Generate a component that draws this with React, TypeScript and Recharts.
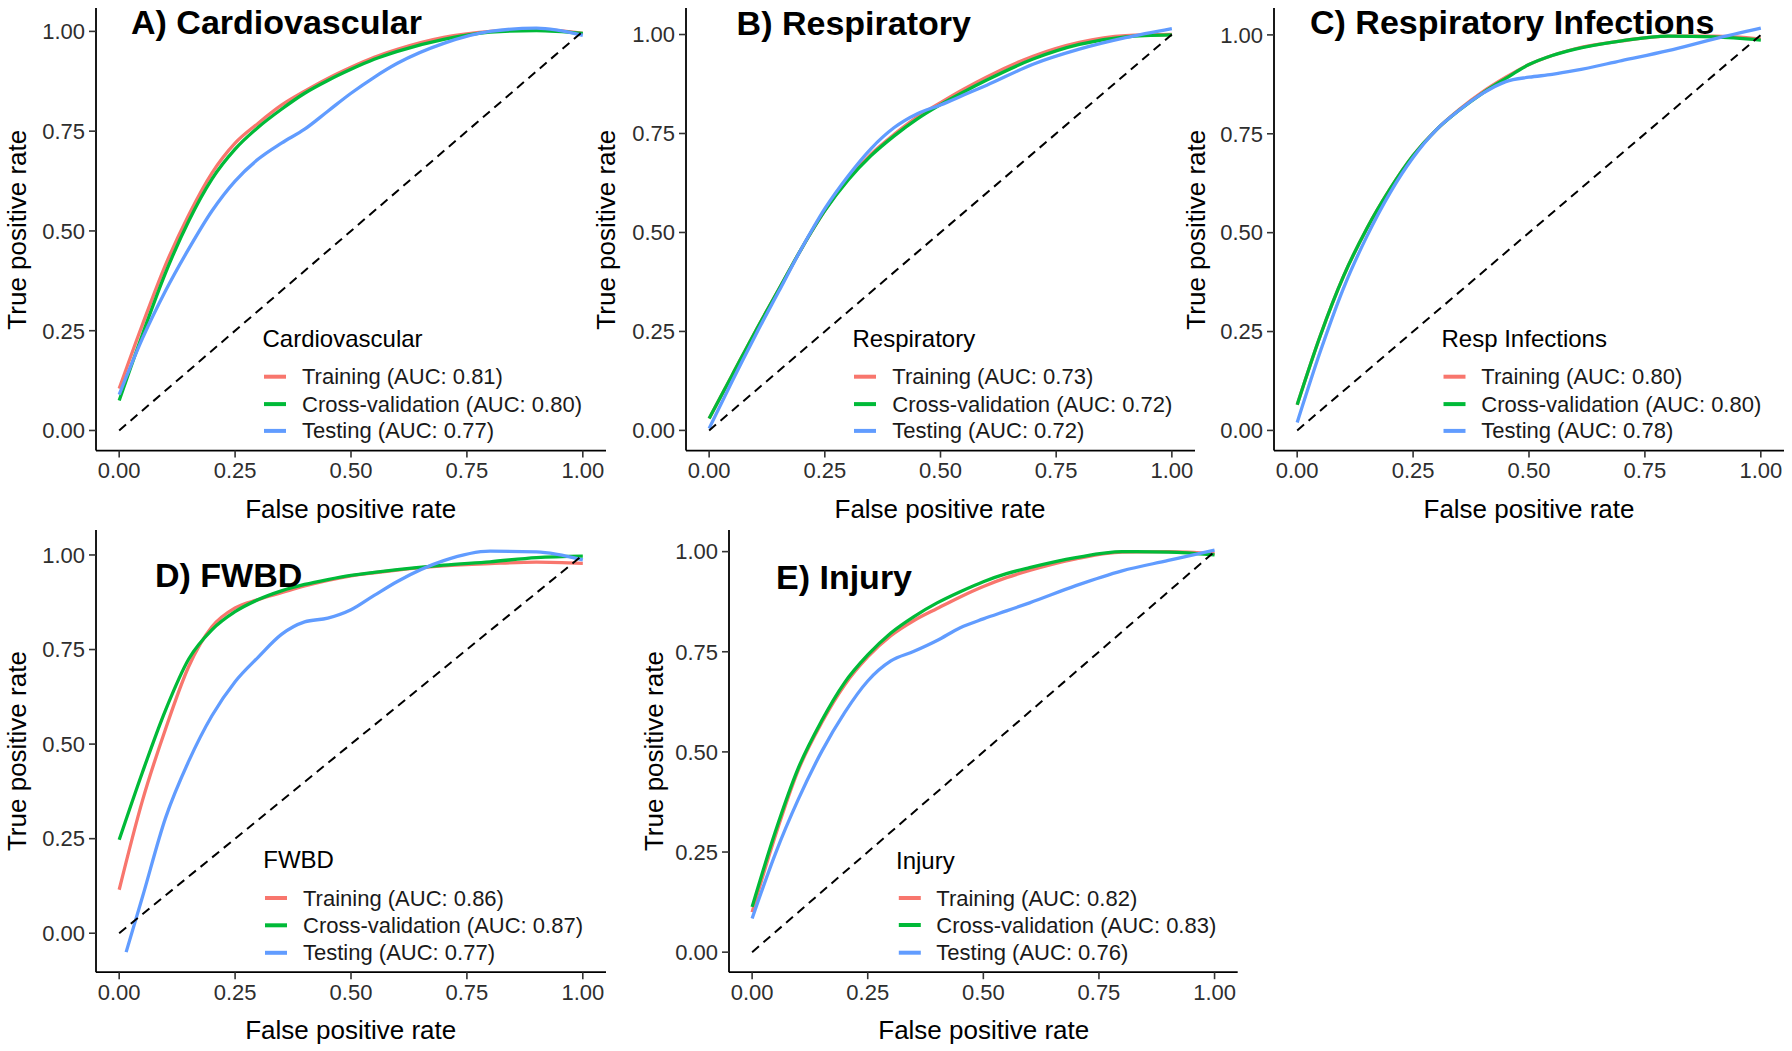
import React from 'react';
import { LineChart, Line, XAxis, YAxis } from 'recharts';

// ROC curves (x = false positive rate, y = true positive rate)
const FPR = [0, 0.05, 0.1, 0.15, 0.2, 0.25, 0.3, 0.35, 0.4, 0.45, 0.5, 0.55, 0.6, 0.7, 0.8, 0.9, 1];
const FPR_FWBD_TEST = [0.015, 0.05, 0.1, 0.15, 0.2, 0.25, 0.3, 0.35, 0.4, 0.45, 0.5, 0.55, 0.6, 0.7, 0.8, 0.9, 1];
const TICKS = [0, 0.25, 0.5, 0.75, 1];
const DIAGONAL = [0, 1];

const cardioTrain = [0.105, 0.265, 0.415, 0.54, 0.645, 0.72, 0.77, 0.815, 0.85, 0.882, 0.91, 0.935, 0.955, 0.985, 1.0, 1.005, 0.995];
const cardioCv = [0.075, 0.24, 0.395, 0.525, 0.63, 0.705, 0.76, 0.805, 0.845, 0.877, 0.905, 0.93, 0.95, 0.98, 0.998, 1.002, 0.995];
const cardioTest = [0.09, 0.23, 0.35, 0.455, 0.55, 0.625, 0.68, 0.72, 0.755, 0.8, 0.845, 0.885, 0.92, 0.97, 1.0, 1.008, 0.99];

const respTrain = [0.03, 0.14, 0.25, 0.355, 0.46, 0.555, 0.635, 0.698, 0.748, 0.792, 0.828, 0.862, 0.893, 0.945, 0.98, 0.997, 1.0];
const respCv = [0.03, 0.14, 0.25, 0.355, 0.46, 0.555, 0.632, 0.694, 0.744, 0.787, 0.823, 0.855, 0.885, 0.938, 0.975, 0.994, 0.999];
const respTest = [0.005, 0.125, 0.24, 0.35, 0.46, 0.56, 0.642, 0.712, 0.765, 0.8, 0.822, 0.847, 0.872, 0.925, 0.963, 0.992, 1.015];

const infTrain = [0.065, 0.24, 0.39, 0.51, 0.61, 0.695, 0.76, 0.812, 0.856, 0.893, 0.925, 0.948, 0.965, 0.985, 0.997, 0.997, 0.99];
const infCv = [0.065, 0.24, 0.39, 0.51, 0.61, 0.695, 0.76, 0.81, 0.853, 0.89, 0.925, 0.948, 0.964, 0.985, 0.997, 0.995, 0.987];
const infTest = [0.02, 0.2, 0.36, 0.49, 0.6, 0.69, 0.76, 0.81, 0.852, 0.882, 0.893, 0.9, 0.91, 0.935, 0.96, 0.99, 1.017];

const fwbdTrain = [0.115, 0.35, 0.54, 0.705, 0.81, 0.86, 0.882, 0.9, 0.918, 0.933, 0.945, 0.953, 0.96, 0.971, 0.977, 0.981, 0.978];
const fwbdCv = [0.247, 0.425, 0.59, 0.725, 0.802, 0.85, 0.882, 0.905, 0.922, 0.935, 0.946, 0.954, 0.961, 0.973, 0.982, 0.993, 0.997];
const fwbdTest = [-0.05, 0.095, 0.305, 0.455, 0.575, 0.665, 0.73, 0.79, 0.823, 0.833, 0.855, 0.893, 0.93, 0.985, 1.01, 1.008, 0.987];

const injTrain = [0.1, 0.29, 0.455, 0.572, 0.667, 0.737, 0.79, 0.828, 0.858, 0.887, 0.913, 0.935, 0.953, 0.982, 0.999, 1.0, 0.995];
const injCv = [0.113, 0.3, 0.46, 0.577, 0.673, 0.742, 0.797, 0.838, 0.872, 0.9, 0.925, 0.945, 0.96, 0.985, 1.0, 0.999, 0.992];
const injTest = [0.084, 0.245, 0.382, 0.5, 0.598, 0.677, 0.727, 0.751, 0.778, 0.81, 0.832, 0.852, 0.872, 0.915, 0.952, 0.978, 1.004];

const SERIES_NAMES = ['Training', 'Cross-validation', 'Testing'];
const COLORS = ['#F8766D', '#00BA38', '#619CFF'];

const FONT = '"Liberation Sans", Arial, sans-serif';
const YW = 90; // y axis width
const XH = 40; // x axis height

const toPoints = (xs: number[], ys: number[]) => xs.map((x, i) => ({ x, y: ys[i] }));

const panels = [
  {
    title: 'A) Cardiovascular', legendTitle: 'Cardiovascular', auc: ['0.81', '0.80', '0.77'],
    series: [[FPR, cardioTrain], [FPR, cardioCv], [FPR, cardioTest]],
    plot: { left: 95.7, top: 8.4, w: 510, h: 442.6 }, yDomain: [-0.0504, 1.0586],
    titleAt: [131, 22], yTitleX: 17, xTitleY: 509,
    legend: { titleX: 262.5, titleY: 338.8, keyX: 264, textX: 302, itemY: [376.7, 404.1, 430.9] },
  },
  {
    title: 'B) Respiratory', legendTitle: 'Respiratory', auc: ['0.73', '0.72', '0.72'],
    series: [[FPR, respTrain], [FPR, respCv], [FPR, respTest]],
    plot: { left: 685.5, top: 8.4, w: 509, h: 442.6 }, yDomain: [-0.051, 1.067],
    titleAt: [736.6, 23], yTitleX: 606, xTitleY: 509,
    legend: { titleX: 852.5, titleY: 338.8, keyX: 854, textX: 892.3, itemY: [376.7, 404.1, 430.9] },
  },
  {
    title: 'C) Respiratory Infections', legendTitle: 'Resp Infections', auc: ['0.80', '0.80', '0.78'],
    series: [[FPR, infTrain], [FPR, infCv], [FPR, infTest]],
    plot: { left: 1274, top: 8.4, w: 510, h: 442.6 }, yDomain: [-0.051, 1.068],
    titleAt: [1310, 22], yTitleX: 1195.6, xTitleY: 509,
    legend: { titleX: 1441.5, titleY: 338.8, keyX: 1443.5, textX: 1481.3, itemY: [376.7, 404.1, 430.9] },
  },
  {
    title: 'D) FWBD', legendTitle: 'FWBD', auc: ['0.86', '0.87', '0.77'],
    series: [[FPR, fwbdTrain], [FPR, fwbdCv], [FPR_FWBD_TEST, fwbdTest]],
    plot: { left: 95.7, top: 530, w: 510, h: 442.2 }, yDomain: [-0.103, 1.066],
    titleAt: [155, 575], yTitleX: 17, xTitleY: 1030,
    legend: { titleX: 263.3, titleY: 859.8, keyX: 265, textX: 303, itemY: [898, 925.3, 952.8] },
  },
  {
    title: 'E) Injury', legendTitle: 'Injury', auc: ['0.82', '0.83', '0.76'],
    series: [[FPR, injTrain], [FPR, injCv], [FPR, injTest]],
    plot: { left: 729.4, top: 530, w: 508.7, h: 442.2 }, yDomain: [-0.05, 1.054],
    titleAt: [776, 577], yTitleX: 653.6, xTitleY: 1030,
    legend: { titleX: 896, titleY: 860.5, keyX: 898.8, textX: 936.3, itemY: [898, 925, 952.7] },
  },
];

const tickStyle = { fill: '#2e2e2e', fontSize: 22, fontFamily: FONT };

function RocPanel({ p }: { p: any }) {
  const W = p.plot.w + YW;
  const H = p.plot.h + XH;
  return (
    <div style={{ position: 'absolute', left: p.plot.left - YW, top: p.plot.top, width: W, height: H }}>
      <LineChart width={W} height={H} margin={{ top: 0, right: 0, bottom: 0, left: 0 }}>
        <XAxis
          type="number" dataKey="x" domain={[-0.05, 1.05]} ticks={TICKS} height={XH}
          tickFormatter={(v: number) => v.toFixed(2)} tick={tickStyle}
          tickSize={7} tickMargin={5}
          axisLine={{ stroke: '#000', strokeWidth: 1.8 }} tickLine={{ stroke: '#333', strokeWidth: 1.6 }}
          allowDataOverflow
        />
        <YAxis
          type="number" domain={p.yDomain} ticks={TICKS} width={YW}
          tickFormatter={(v: number) => v.toFixed(2)} tick={tickStyle}
          tickSize={7} tickMargin={4}
          axisLine={{ stroke: '#000', strokeWidth: 1.8 }} tickLine={{ stroke: '#333', strokeWidth: 1.6 }}
          allowDataOverflow
        />
        {p.series.map((s: number[][], i: number) => (
          <Line
            key={SERIES_NAMES[i]} data={toPoints(s[0], s[1])} dataKey="y" type="monotone"
            stroke={COLORS[i]} strokeWidth={3.3} dot={false} activeDot={false} isAnimationActive={false}
          />
        ))}
        <Line
          data={toPoints(DIAGONAL, DIAGONAL)} dataKey="y" type="linear" stroke="#000"
          strokeWidth={2} strokeDasharray="9 6" dot={false} activeDot={false} isAnimationActive={false}
        />
      </LineChart>
    </div>
  );
}

function Labels({ p }: { p: any }) {
  const cx = p.plot.left + p.plot.w / 2;
  const cy = p.plot.top + p.plot.h / 2;
  const lg = p.legend;
  return (
    <g fontFamily={FONT}>
      <text x={p.titleAt[0]} y={p.titleAt[1]} dominantBaseline="central" fontSize={34} fontWeight="bold" fill="#000">
        {p.title}
      </text>
      <text x={cx} y={p.xTitleY} textAnchor="middle" dominantBaseline="central" fontSize={26} fill="#000">
        False positive rate
      </text>
      <text
        x={p.yTitleX} y={cy} textAnchor="middle" dominantBaseline="central" fontSize={26} fill="#000"
        transform={`rotate(-90 ${p.yTitleX} ${cy})`}
      >
        True positive rate
      </text>
      <text x={lg.titleX} y={lg.titleY} dominantBaseline="central" fontSize={24} fill="#000">
        {p.legendTitle}
      </text>
      {SERIES_NAMES.map((name, i) => (
        <g key={name}>
          <line x1={lg.keyX} x2={lg.keyX + 22} y1={lg.itemY[i]} y2={lg.itemY[i]} stroke={COLORS[i]} strokeWidth={4} />
          <text x={lg.textX} y={lg.itemY[i]} dominantBaseline="central" fontSize={22} fill="#1a1a1a">
            {`${name} (AUC: ${p.auc[i]})`}
          </text>
        </g>
      ))}
    </g>
  );
}

export default function App() {
  return (
    <div style={{ position: 'absolute', left: 0, top: 0, width: 1792, height: 1051, background: '#fff' }}>
      {panels.map((p) => (
        <RocPanel key={p.title} p={p} />
      ))}
      <svg width={1792} height={1051} style={{ position: 'absolute', left: 0, top: 0, pointerEvents: 'none' }}>
        {panels.map((p) => (
          <Labels key={p.title} p={p} />
        ))}
      </svg>
    </div>
  );
}
